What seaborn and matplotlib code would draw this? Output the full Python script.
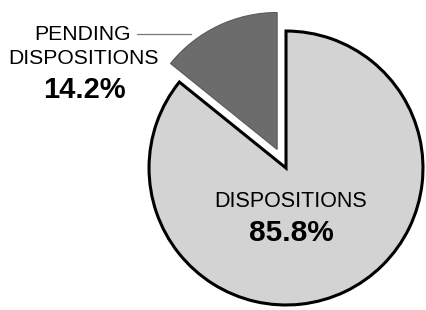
import matplotlib
matplotlib.use("Agg")
import matplotlib.pyplot as plt
import seaborn as sns

# data
labels = ["PENDING\nDISPOSITIONS", "DISPOSITIONS"]
shares = [14.2, 85.8]
pct_labels = ["14.2%", "85.8%"]
colors = ["#6c6c6c", "#d3d3d3"]

sns.set_theme(style="white")
plt.rcParams['font.family'] = ['Liberation Sans', 'DejaVu Sans']
plt.rcParams['text.color'] = "black"

fig = plt.figure(figsize=(4.26, 3.10), dpi=100)
ax = fig.add_axes([0, 0, 1, 1])

wedges, _ = ax.pie(shares, colors=colors, startangle=90, counterclock=True,
                   explode=[0.15, 0], radius=1.0,
                   wedgeprops=dict(linewidth=2.2, edgecolor="black"))
wedges[0].set_edgecolor("#5a5a5a")
wedges[0].set_linewidth(0.8)

# pending label on the left with leader line
ax.plot([-1.088, -0.69], [0.978, 0.978], color="#777777", lw=0.9)
ax.text(-1.482, 0.978, "PENDING", ha="center", va="center", fontsize=15.2)
ax.text(-1.482, 0.796, "DISPOSITIONS", ha="center", va="center", fontsize=15.2)
ax.text(-1.474, 0.569, pct_labels[0], ha="center", va="center",
        fontsize=21, fontweight="bold")

# main slice label
ax.text(0.036, -0.248, labels[1], ha="center", va="center", fontsize=15.5)
ax.text(0.036, -0.474, pct_labels[1], ha="center", va="center",
        fontsize=21.5, fontweight="bold")

ax.set_xlim(-2.088, 1.022)
ax.set_ylim(-1.036, 1.226)
ax.set_aspect("equal")
ax.axis("off")

fig.savefig("out.png", dpi=100, facecolor="white")
